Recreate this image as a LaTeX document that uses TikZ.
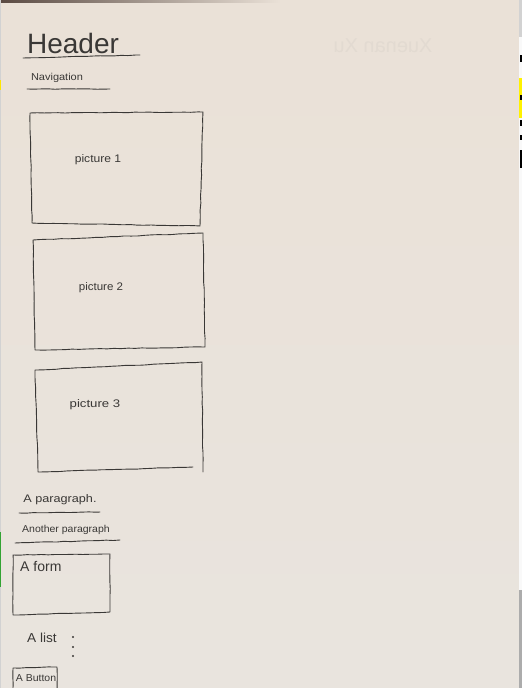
\documentclass[tikz,border=0pt]{standalone}
\usepackage{fontspec}
\setmainfont{Liberation Sans}
\usetikzlibrary{decorations.pathmorphing}

\definecolor{pencil}{HTML}{3A3836}
\definecolor{papertop}{HTML}{EAE1D7}
\definecolor{papermid}{HTML}{E7E5E0}
\definecolor{paperbot}{HTML}{E9E4DE}
\definecolor{edgedark}{HTML}{5A4A42}
\definecolor{ghost}{HTML}{E2DAD1}

\tikzset{
  stroke/.style={draw=pencil, line width=0.9pt, line cap=round, line join=round,
    decorate, decoration={random steps, segment length=7pt, amplitude=0.3pt}},
  scrawl/.style={text=pencil, inner sep=0pt},
  dotmark/.style={circle, fill=pencil, inner sep=0pt, minimum size=2.4pt},
}
% handwritten-style label: size in pt, horizontal stretch, text
\newcommand\hand[3]{\fontsize{#1}{#1}\selectfont\scalebox{#2}[1]{#3}}

\begin{document}
\begin{tikzpicture}[x=1pt,y=-1pt]
\pgfmathsetseed{11}
\useasboundingbox (0,0) rectangle (522,688);

% sheet of paper
\shade[top color=papertop, middle color=papermid, bottom color=paperbot]
  (0,0) rectangle (519,688);
\shade[left color=edgedark, right color=papertop] (0,0) rectangle (280,2.5);
\fill[gray!35] (0,0) rectangle (0.7,688);
\fill[yellow!90!orange] (0,80) rectangle (1.2,90);
\fill[green!55!black!80] (0,532) rectangle (1.2,587);

% strip beyond the right edge of the sheet
\fill[gray!35] (519,0) rectangle (522,37);
\fill[white!95!gray] (519,37) rectangle (522,590);
\fill[gray!65] (519,590) rectangle (522,688);
\fill[black] (519.5,55) rectangle (522,62);
\fill[yellow] (519,78) rectangle (522,118);
\fill[black] (519.5,95) rectangle (522,100);
\fill[black] (519.5,120) rectangle (522,126);
\fill[black] (519.5,135) rectangle (522,140);
\fill[black] (519.5,150) rectangle (522,168);

% faint show-through from the back of the sheet
\node[text=ghost, inner sep=0pt, xscale=-1] (ghostname) at (383,46)
  {\fontsize{20}{20}\selectfont Xuenan Xu};

% header and navigation
\node[scrawl] (header) at (73,43) {\hand{28}{1}{Header}};
\coordinate (hul) at (23,58);  \coordinate (hur) at (140,55);
\draw[stroke] (hul) -- (hur);

\node[scrawl] (nav) at (57,78) {\hand{10}{1.1}{Navigation}};
\coordinate (nul) at (27,89);  \coordinate (nur) at (110,89);
\draw[stroke] (nul) -- (nur);

% picture 1
\coordinate (p1a) at (30,113);  \coordinate (p1b) at (203,112);
\coordinate (p1c) at (200,226); \coordinate (p1d) at (32,223);
\draw[stroke] (p1a) -- (p1b) -- (p1c) -- (p1d) -- cycle;
\node[scrawl] (pic1) at (98,160) {\hand{11}{1.1}{picture 1}};

% picture 2
\coordinate (p2a) at (33,240);  \coordinate (p2b) at (203,233);
\coordinate (p2c) at (205,347); \coordinate (p2d) at (35,350);
\draw[stroke] (p2a) -- (p2b) -- (p2c) -- (p2d) -- cycle;
\node[scrawl] (pic2) at (101,288) {\hand{11}{1.05}{picture 2}};

% picture 3 (bottom edge stops short of the corner)
\coordinate (p3a) at (35,370);  \coordinate (p3b) at (202,362);
\coordinate (p3c) at (203,472); \coordinate (p3d) at (38,472);
\coordinate (p3e) at (193,467);
\draw[stroke] (p3e) -- (p3d) -- (p3a) -- (p3b) -- (p3c);
\node[scrawl] (pic3) at (95,405) {\hand{11}{1.2}{picture 3}};

% paragraphs
\node[scrawl] (para1) at (60,500) {\hand{11}{1.15}{A paragraph.}};
\coordinate (a1l) at (19,513); \coordinate (a1r) at (100,512);
\draw[stroke] (a1l) -- (a1r);

\node[scrawl] (para2) at (66,530) {\hand{10}{1.05}{Another paragraph}};
\coordinate (a2l) at (15,543); \coordinate (a2r) at (120,540);
\draw[stroke] (a2l) -- (a2r);

% form
\coordinate (fa) at (13,555);  \coordinate (fb) at (110,554);
\coordinate (fc) at (110,612); \coordinate (fd) at (13,615);
\draw[stroke] (fa) -- (fb) -- (fc) -- (fd) -- cycle;
\node[scrawl, anchor=west] (form) at (20,566) {\hand{14}{1}{A form}};

% list
\node[scrawl] (list) at (42,638) {\hand{13}{1.05}{A list}};
\node[dotmark] (d1) at (73,637) {};
\node[dotmark] (d2) at (73,647) {};
\node[dotmark] (d3) at (73,656) {};

% button, running off the bottom of the sheet
\coordinate (ba) at (13,668);  \coordinate (bb) at (57,667);
\coordinate (bc) at (57,690);  \coordinate (bd) at (13,690);
\draw[stroke] (bd) -- (ba) -- (bb) -- (bc);
\node[scrawl] (button) at (36,678) {\hand{10}{1.05}{A Button}};
\end{tikzpicture}
\end{document}
